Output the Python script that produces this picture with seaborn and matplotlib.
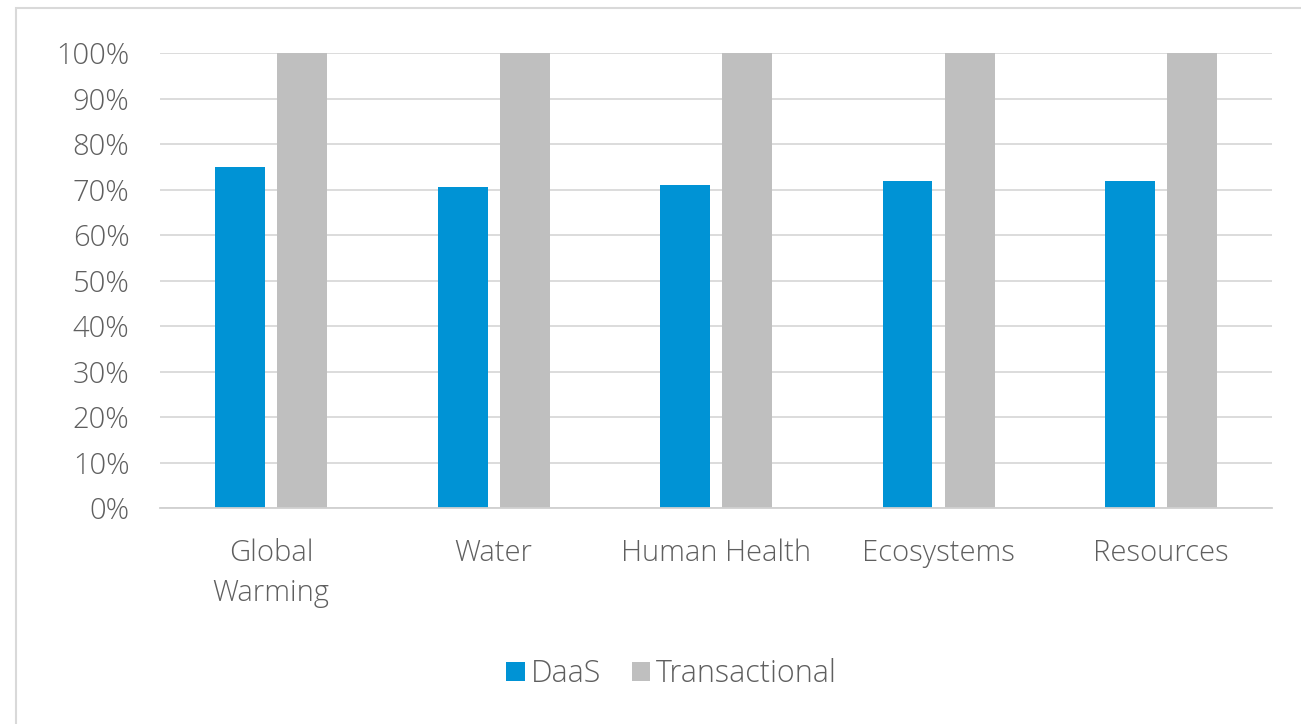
import pandas as pd
import seaborn as sns
import matplotlib.pyplot as plt
from matplotlib.patches import Rectangle
from matplotlib.ticker import PercentFormatter

categories = ["Global\nWarming", "Water", "Human Health", "Ecosystems", "Resources"]
daas = [75, 70.5, 71, 72, 72]
transactional = [100, 100, 100, 100, 100]

df = pd.DataFrame({
    "category": categories * 2,
    "value": daas + transactional,
    "model": ["DaaS"] * len(categories) + ["Transactional"] * len(categories),
})

sns.set_theme(style="white")
plt.rcParams["font.family"] = ["Open Sans", "DejaVu Sans"]
plt.rcParams["font.weight"] = "light"
text_color = "#5f5f5f"

fig = plt.figure(figsize=(13.01, 7.24), dpi=100)
ax = fig.add_axes([0.123, 0.298, 0.855, 0.6285])

sns.barplot(data=df, x="category", y="value", hue="model",
            palette={"DaaS": "#0093d5", "Transactional": "#bfbfbf"},
            width=0.56, gap=0.2, saturation=1, linewidth=0, ax=ax)

ax.set_ylim(0, 100)
ax.set_yticks(range(0, 101, 10))
ax.yaxis.set_major_formatter(PercentFormatter(decimals=0))
ax.grid(axis="y", color="#d9d9d9", linewidth=1.3)
ax.set_axisbelow(True)
for s in ["top", "right", "left"]:
    ax.spines[s].set_visible(False)
ax.spines["bottom"].set_color("#d0d0d0")
ax.spines["bottom"].set_linewidth(1.3)
ax.set_xlabel("")
ax.set_ylabel("")
ax.tick_params(axis="both", labelsize=21, colors=text_color, length=0)
ax.tick_params(axis="x", pad=22)
ax.tick_params(axis="y", pad=22)
for lbl in ax.get_xticklabels():
    lbl.set_linespacing(1.45)

ax.legend(loc="center", bbox_to_anchor=(0.46, -0.365), ncol=2, frameon=False,
          fontsize=22, labelcolor=text_color, handlelength=0.6, handleheight=0.6,
          handletextpad=0.2, columnspacing=1.0)

fig.patches.append(Rectangle((0.0125, -0.02), 1.0, 1.009, transform=fig.transFigure,
                             fill=False, edgecolor="#d9d9d9", linewidth=1.5))

fig.savefig("out.png", dpi=100)
